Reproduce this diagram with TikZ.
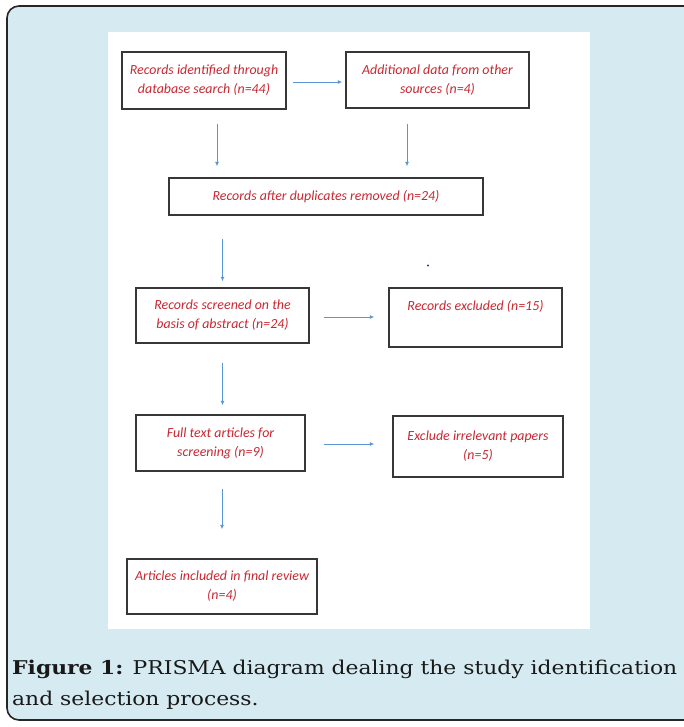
\documentclass[tikz,border=0pt]{standalone}
\usepackage{fontspec}
\setmainfont{Liberation Serif}
\newfontfamily\boxfont{Carlito}
\newfontfamily\capfont[FakeStretch=1.15]{DejaVu Serif}
\usetikzlibrary{arrows.meta}
\definecolor{panelblue}{RGB}{214,235,241}
\definecolor{boxred}{RGB}{200,40,50}
\definecolor{arrblue}{RGB}{91,150,210}
\definecolor{boxgray}{RGB}{55,55,55}
\definecolor{dotblue}{RGB}{60,40,180}
\tikzset{
  flowbox/.style={draw=boxgray, line width=1.4pt, fill=white, inner sep=0pt,
    text=boxred, align=center, font=\boxfont\itshape\fontsize{13.9}{19}\selectfont},
  arr/.style={draw=arrblue, line width=0.9pt, -{Latex[length=4.5pt,width=4pt]}},
  captext/.style={anchor=base west, inner sep=0pt, text=black!90, font=\capfont\fontsize{19}{31}\selectfont}
}
\begin{document}
\begin{tikzpicture}[x=1pt,y=-1pt]
\useasboundingbox (0,0) rectangle (684,727);
\clip (0,0) rectangle (684,727);
% outer framed panel
\draw[line width=1.6pt, draw=black!85, fill=panelblue, rounded corners=12pt] (7,6) rectangle (710,720);
% white panel
\fill[white] (108,32) rectangle (590,629);
% boxes
\node[flowbox, minimum width=164pt, minimum height=57pt] (b1) at (204,80.5)
  {Records identified through\\database search (n=44)};
\node[flowbox, minimum width=183pt, minimum height=56pt] (b2) at (437.5,80)
  {Additional data from other\\sources (n=4)};
\node[flowbox, minimum width=314pt, minimum height=37pt] (b3) at (326,196.5)
  {Records after duplicates removed (n=24)};
\node[flowbox, minimum width=173pt, minimum height=55pt] (b4) at (222.5,315.5)
  {Records screened on the\\basis of abstract (n=24)};
\node[flowbox, minimum width=173pt, minimum height=59pt] (b5) at (475.5,317.5)
  {Records excluded (n=15)\\\strut};
\node[flowbox, minimum width=169pt, minimum height=56pt] (b6) at (220.5,443)
  {Full text articles for\\screening (n=9)};
\node[flowbox, minimum width=170pt, minimum height=61pt] (b7) at (478,446.5)
  {Exclude irrelevant papers\\(n=5)};
\node[flowbox, minimum width=190pt, minimum height=55pt] (b8) at (222,586.5)
  {Articles included in final review\\(n=4)};
% arrows
\draw[arr, shorten <=6pt, shorten >=3pt] ([yshift=-1.5pt]b1.east) -- ([yshift=-1.5pt]b1.east -| b2.west);
\draw[arr, shorten <=14pt, shorten >=11pt] ([xshift=13pt]b1.south) -- ([xshift=13pt]b1.south |- b3.north);
\draw[arr, shorten <=15pt, shorten >=11pt] ([xshift=-30.5pt]b2.south) -- ([xshift=-30.5pt]b2.south |- b3.north);
\draw[arr, shorten <=23pt, shorten >=6pt] (b3.south -| b4.north) -- (b4.north);
\draw[arr, shorten <=14pt, shorten >=14pt] ([yshift=-1.5pt]b4.east) -- ([yshift=-1.5pt]b4.east -| b5.west);
\draw[arr, shorten <=19pt, shorten >=9pt] (b4.south) -- (b4.south |- b6.north);
\draw[arr, shorten <=18pt, shorten >=18pt] ([yshift=-1pt]b6.east) -- ([yshift=-1pt]b6.east -| b7.west);
\draw[arr, shorten <=17pt, shorten >=29pt] ([xshift=1.5pt]b6.south) -- ([xshift=1.5pt]b6.south |- b8.north);
% stray dot
\fill[dotblue] (428,265.5) circle (1.2pt);
% caption
\node[captext] (cap1) at (12,674) {\textbf{Figure 1:} PRISMA diagram dealing the study identification};
\node[captext] (cap2) at (12,705) {and selection process.};
\end{tikzpicture}
\end{document}
